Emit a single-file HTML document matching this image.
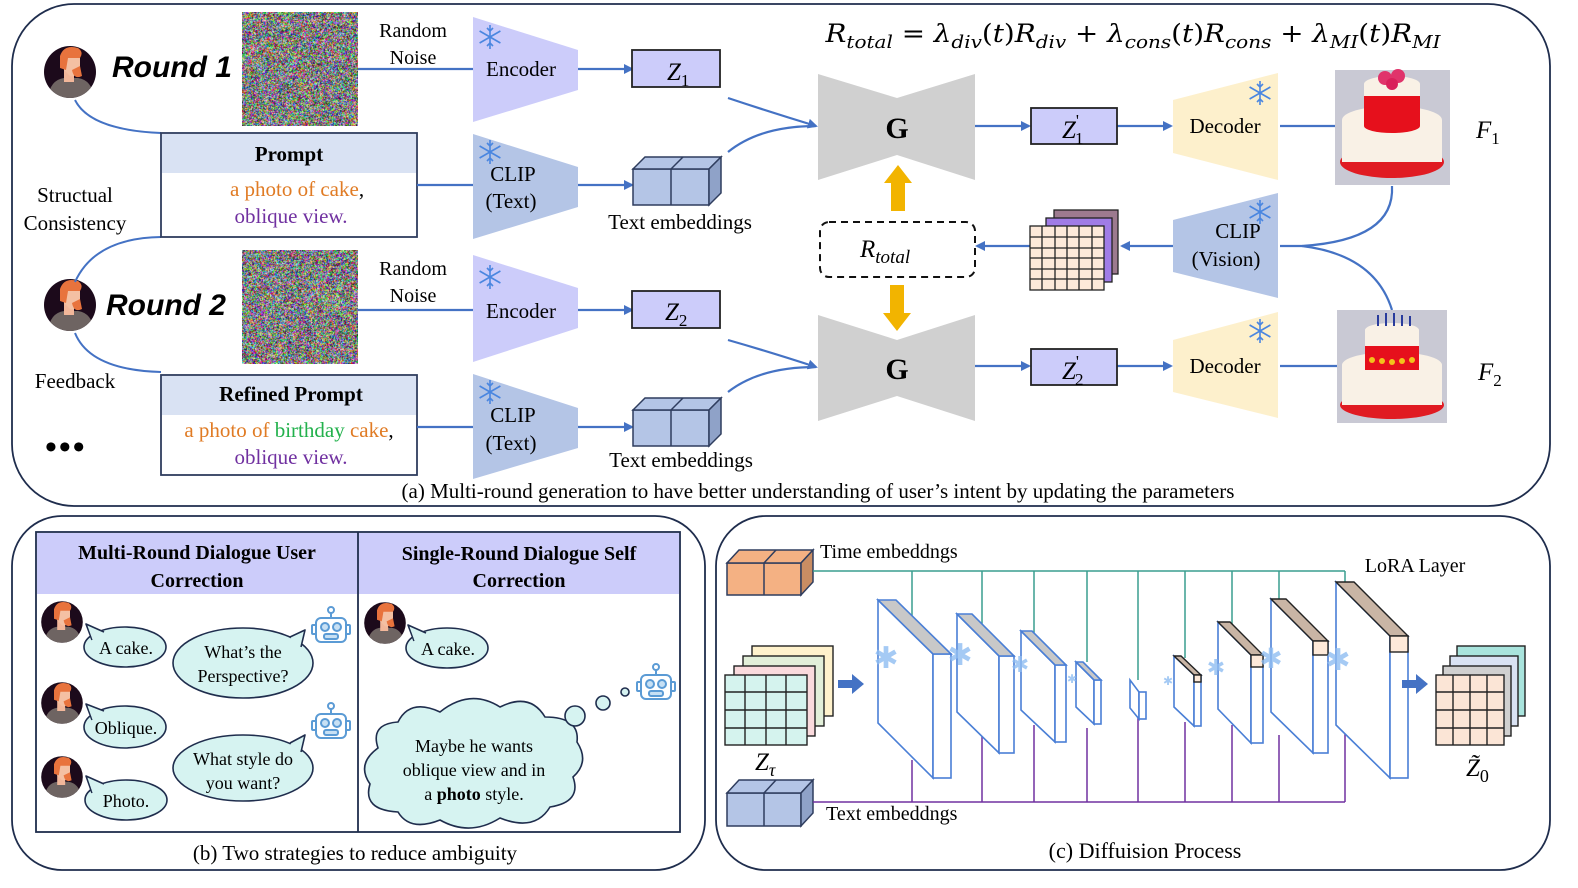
<!DOCTYPE html>
<html><head><meta charset="utf-8">
<style>
html,body{margin:0;padding:0;background:#fff;width:1578px;height:888px;overflow:hidden;}
svg{display:block;font-family:"Liberation Serif",serif;}
canvas{position:absolute;}
</style></head>
<body>
<div style="position:relative;width:1578px;height:888px;overflow:hidden;">
<svg width="1578" height="888" viewBox="0 0 1578 888" xmlns="http://www.w3.org/2000/svg">
<defs>
<marker id="ab" markerWidth="10" markerHeight="10" refX="8" refY="5" orient="auto" markerUnits="userSpaceOnUse"><path d="M0,0 L10,5 L0,10 z" fill="#4472c4"/></marker>
<g id="av">
<circle cx="0" cy="0" r="26" fill="#1c0a1b"/>
<clipPath id="avc"><circle cx="0" cy="0" r="26"/></clipPath>
<g clip-path="url(#avc)">
<path d="M-22,26 Q-20,8 -6,6 L8,6 Q22,8 24,26 z" fill="#6e6462"/>
<rect x="-6" y="-4" width="10" height="14" fill="#f2b79a"/>
<path d="M-8,-18 Q-2,-26 10,-20 L10,-4 Q6,6 0,4 L-6,-2 z" fill="#f4c0a3"/>
<path d="M-10,-16 Q-6,-28 8,-24 Q14,-20 10,-14 L-2,-14 L-4,-2 L-10,-4 z" fill="#e8733d"/>
<path d="M2,-2 Q4,8 12,4 L10,-6 z" fill="#e8733d"/>
</g>
</g>
<g id="snow" stroke="#4a86e0" stroke-width="1.6" fill="none">
<line x1="0" y1="-12" x2="0" y2="12"/><line x1="-10.4" y1="-6" x2="10.4" y2="6"/><line x1="-10.4" y1="6" x2="10.4" y2="-6"/>
<path d="M-3,-9 L0,-6 L3,-9 M-3,9 L0,6 L3,9"/>
</g>
<g id="robot" stroke="#5b9bd5" stroke-width="2" fill="#fff">
<line x1="0" y1="-16" x2="0" y2="-10"/><circle cx="0" cy="-18" r="3"/>
<rect x="-15" y="-10" width="30" height="24" rx="5"/>
<rect x="-19" y="-3" width="4" height="9" rx="1"/><rect x="15" y="-3" width="4" height="9" rx="1"/>
<circle cx="-6" cy="-1" r="4" fill="#c7e0f4"/><circle cx="6" cy="-1" r="4" fill="#c7e0f4"/>
<rect x="-7" y="6" width="14" height="5" rx="2" fill="#c7e0f4"/>
</g>
<g id="cube">
<polygon points="0,12 76,12 76,48 0,48" fill="#b4c5e6" stroke="#2f3d5e" stroke-width="1.5"/>
<polygon points="0,12 12,0 88,0 76,12" fill="#b4c5e6" stroke="#2f3d5e" stroke-width="1.5"/>
<polygon points="76,12 88,0 88,36 76,48" fill="#8fa2c8" stroke="#2f3d5e" stroke-width="1.5"/>
<line x1="38" y1="12" x2="38" y2="48" stroke="#2f3d5e" stroke-width="1.5"/>
<line x1="38" y1="12" x2="50" y2="0" stroke="#2f3d5e" stroke-width="1.5"/>
</g>
</defs>

<rect x="12" y="4" width="1538" height="502" rx="62" fill="none" stroke="#1f2d4d" stroke-width="1.8"/>
<rect x="12" y="516" width="693" height="354" rx="50" fill="none" stroke="#1f2d4d" stroke-width="1.8"/>
<rect x="716" y="516" width="834" height="354" rx="50" fill="none" stroke="#1f2d4d" stroke-width="1.8"/>

<text x="1133" y="42" text-anchor="middle" font-size="25" font-style="italic" font-family="DejaVu Serif, serif" textLength="615" lengthAdjust="spacingAndGlyphs">R<tspan font-size="18" dy="6">total</tspan><tspan dy="-6" font-style="normal"> = </tspan>λ<tspan font-size="18" dy="6">div</tspan><tspan dy="-6" font-style="normal">(</tspan>t<tspan font-style="normal">)</tspan>R<tspan font-size="18" dy="6">div</tspan><tspan dy="-6" font-style="normal"> + </tspan>λ<tspan font-size="18" dy="6">cons</tspan><tspan dy="-6" font-style="normal">(</tspan>t<tspan font-style="normal">)</tspan>R<tspan font-size="18" dy="6">cons</tspan><tspan dy="-6" font-style="normal"> + </tspan>λ<tspan font-size="18" dy="6">MI</tspan><tspan dy="-6" font-style="normal">(</tspan>t<tspan font-style="normal">)</tspan>R<tspan font-size="18" dy="6">MI</tspan></text>

<use href="#av" x="70" y="72"/>
<use href="#av" x="70" y="305"/>
<text x="112" y="77" font-size="30" font-weight="bold" font-style="italic" font-family="Liberation Sans, sans-serif">Round 1</text>
<text x="106" y="315" font-size="30" font-weight="bold" font-style="italic" font-family="Liberation Sans, sans-serif">Round 2</text>
<text x="75" y="202" text-anchor="middle" font-size="21">Structual</text>
<text x="75" y="230" text-anchor="middle" font-size="21">Consistency</text>
<text x="75" y="388" text-anchor="middle" font-size="21">Feedback</text>
<text x="45" y="458" font-size="34" font-weight="bold" letter-spacing="2">•••</text>
<g fill="none" stroke="#4472c4" stroke-width="2">
<path d="M75,100 Q90,130 161,133"/>
<path d="M161,237 Q95,238 75,282"/>
<path d="M75,333 Q90,370 161,372"/>
</g>

<rect x="161" y="133" width="256" height="104" fill="#fff" stroke="#2f3d5e" stroke-width="1.8"/>
<rect x="162" y="134" width="254" height="39" fill="#d9e2f3"/>
<text x="289" y="161" text-anchor="middle" font-size="21" font-weight="bold">Prompt</text>
<text x="297" y="196" text-anchor="middle" font-size="21"><tspan fill="#e07b24">a photo of cake</tspan>,</text>
<text x="291" y="223" text-anchor="middle" font-size="21" fill="#7030a0">oblique view.</text>
<rect x="161" y="375" width="256" height="100" fill="#fff" stroke="#2f3d5e" stroke-width="1.8"/>
<rect x="162" y="376" width="254" height="39" fill="#d9e2f3"/>
<text x="291" y="401" text-anchor="middle" font-size="21" font-weight="bold">Refined Prompt</text>
<text x="289" y="437" text-anchor="middle" font-size="21"><tspan fill="#e07b24">a photo of </tspan><tspan fill="#22b14c">birthday</tspan><tspan fill="#e07b24"> cake</tspan>,</text>
<text x="291" y="464" text-anchor="middle" font-size="21" fill="#7030a0">oblique view.</text>

<text x="413" y="37" text-anchor="middle" font-size="20">Random</text>
<text x="413" y="64" text-anchor="middle" font-size="20">Noise</text>
<text x="413" y="275" text-anchor="middle" font-size="20">Random</text>
<text x="413" y="302" text-anchor="middle" font-size="20">Noise</text>

<polygon points="473,17 578,50 578,90 473,122" fill="#ccccfa"/>
<polygon points="473,255 578,288 578,328 473,362" fill="#ccccfa"/>
<polygon points="473,134 578,167 578,207 473,239" fill="#b4c5e6"/>
<polygon points="473,374 578,408 578,448 473,479" fill="#b4c5e6"/>
<use href="#snow" x="490" y="37"/><use href="#snow" x="490" y="277"/>
<use href="#snow" x="490" y="152"/><use href="#snow" x="490" y="392"/>
<text x="521" y="76" text-anchor="middle" font-size="21">Encoder</text>
<text x="521" y="318" text-anchor="middle" font-size="21">Encoder</text>
<text x="513" y="181" text-anchor="middle" font-size="21">CLIP</text>
<text x="511" y="208" text-anchor="middle" font-size="21">(Text)</text>
<text x="513" y="422" text-anchor="middle" font-size="21">CLIP</text>
<text x="511" y="450" text-anchor="middle" font-size="21">(Text)</text>

<g stroke="#4472c4" stroke-width="2.2" fill="none">
<line x1="358" y1="69" x2="473" y2="69"/>
<line x1="358" y1="310" x2="473" y2="310"/>
<line x1="417" y1="185" x2="473" y2="185"/>
<line x1="417" y1="427" x2="473" y2="427"/>
<line x1="578" y1="69" x2="632" y2="69" marker-end="url(#ab)"/>
<line x1="578" y1="310" x2="632" y2="310" marker-end="url(#ab)"/>
<line x1="578" y1="185" x2="632" y2="185" marker-end="url(#ab)"/>
<line x1="578" y1="427" x2="632" y2="427" marker-end="url(#ab)"/>
<path d="M728,98 Q770,112 816,126" marker-end="url(#ab)"/>
<path d="M728,152 Q760,126 816,126"/>
<path d="M728,340 Q770,352 816,367" marker-end="url(#ab)"/>
<path d="M728,392 Q760,367 816,367"/>
<line x1="975" y1="126" x2="1029" y2="126" marker-end="url(#ab)"/>
<line x1="975" y1="366" x2="1029" y2="366" marker-end="url(#ab)"/>
<line x1="1117" y1="126" x2="1171" y2="126" marker-end="url(#ab)"/>
<line x1="1117" y1="366" x2="1171" y2="366" marker-end="url(#ab)"/>
<line x1="1280" y1="126" x2="1335" y2="126"/>
<line x1="1280" y1="366" x2="1337" y2="366"/>
<line x1="1173" y1="246" x2="1122" y2="246" marker-end="url(#ab)"/>
<line x1="1030" y1="246" x2="977" y2="246" marker-end="url(#ab)"/>
<path d="M1392,186 Q1395,240 1302,246 L1280,246"/>
<path d="M1302,246 Q1375,255 1392,310"/>
</g>

<rect x="632" y="50" width="88" height="37" fill="#ccccfa" stroke="#222" stroke-width="1.8"/>
<text x="667" y="80" font-size="25" font-style="italic">Z<tspan font-size="17" dy="6" font-style="normal">1</tspan></text>
<rect x="632" y="291" width="88" height="37" fill="#ccccfa" stroke="#222" stroke-width="1.8"/>
<text x="665" y="320" font-size="25" font-style="italic">Z<tspan font-size="17" dy="6" font-style="normal">2</tspan></text>
<use href="#cube" x="633" y="157"/>
<use href="#cube" x="633" y="398"/>
<text x="680" y="229" text-anchor="middle" font-size="21">Text embeddings</text>
<text x="681" y="467" text-anchor="middle" font-size="21">Text embeddings</text>

<polygon points="818,74 897,98 975,74 975,180 897,155 818,180" fill="#d0d0d0"/>
<polygon points="818,315 897,340 975,315 975,421 897,396 818,421" fill="#d0d0d0"/>
<text x="897" y="138" text-anchor="middle" font-size="30" font-weight="bold">G</text>
<text x="897" y="379" text-anchor="middle" font-size="30" font-weight="bold">G</text>
<polygon points="891,211 891,183 884,183 898,165 912,183 905,183 905,211" fill="#f2b400"/>
<polygon points="890,285 890,313 883,313 897,331 911,313 904,313 904,285" fill="#f2b400"/>
<rect x="820" y="222" width="155" height="55" rx="9" fill="none" stroke="#111" stroke-width="2" stroke-dasharray="7,5"/>
<text x="860" y="257" font-size="25" font-style="italic">R<tspan font-size="19" dy="6">total</tspan></text>

<rect x="1031" y="108" width="86" height="36" fill="#ccccfa" stroke="#222" stroke-width="1.8"/>
<text x="1062" y="138" font-size="25" font-style="italic">Z<tspan font-size="17" dy="-12" font-style="normal">'</tspan><tspan font-size="17" dx="-4" dy="18" font-style="normal">1</tspan></text>
<rect x="1031" y="349" width="86" height="36" fill="#ccccfa" stroke="#222" stroke-width="1.8"/>
<text x="1062" y="379" font-size="25" font-style="italic">Z<tspan font-size="17" dy="-12" font-style="normal">'</tspan><tspan font-size="17" dx="-4" dy="18" font-style="normal">2</tspan></text>

<polygon points="1173,100 1278,73 1278,180 1173,153" fill="#fdf0cc"/>
<polygon points="1173,340 1278,312 1278,418 1173,392" fill="#fdf0cc"/>
<polygon points="1173,220 1278,193 1278,298 1173,272" fill="#b4c5e6"/>
<use href="#snow" x="1260" y="93"/><use href="#snow" x="1260" y="331"/><use href="#snow" x="1260" y="212"/>
<text x="1225" y="133" text-anchor="middle" font-size="21">Decoder</text>
<text x="1225" y="373" text-anchor="middle" font-size="21">Decoder</text>
<text x="1238" y="238" text-anchor="middle" font-size="21">CLIP</text>
<text x="1226" y="266" text-anchor="middle" font-size="21">(Vision)</text>

<g stroke="#222" stroke-width="1.3">
<rect x="1054" y="210" width="64" height="64" fill="#9d7a8f"/>
<rect x="1046" y="218" width="66" height="64" fill="#a07ce6"/>
<rect x="1030" y="226" width="74" height="64" fill="#fde9d9"/>
<path d="M1042,226V290M1055,226V290M1067,226V290M1079,226V290M1092,226V290M1030,237H1104M1030,248H1104M1030,258H1104M1030,269H1104M1030,279H1104" fill="none"/>
</g>

<rect x="1335" y="70" width="115" height="115" fill="#c9c9d4"/>
<ellipse cx="1392" cy="162" rx="52" ry="16" fill="#e01b22"/>
<rect x="1342" y="120" width="100" height="42" fill="#f9f1e6"/>
<ellipse cx="1392" cy="120" rx="50" ry="14" fill="#f9f1e6"/>
<rect x="1364" y="92" width="56" height="34" fill="#e6101c"/>
<ellipse cx="1392" cy="126" rx="28" ry="7" fill="#e6101c"/>
<rect x="1364" y="84" width="56" height="12" fill="#f9f1e6"/>
<ellipse cx="1392" cy="84" rx="28" ry="8" fill="#f9f1e6"/>
<circle cx="1385" cy="78" r="7" fill="#e0336b"/><circle cx="1398" cy="76" r="7" fill="#e0336b"/><circle cx="1392" cy="84" r="6" fill="#d9205b"/>
<rect x="1337" y="310" width="110" height="113" fill="#c9c9d4"/>
<ellipse cx="1392" cy="405" rx="52" ry="14" fill="#e01b22"/>
<rect x="1342" y="365" width="100" height="40" fill="#f9f1e6"/>
<ellipse cx="1392" cy="365" rx="50" ry="13" fill="#f9f1e6"/>
<rect x="1365" y="338" width="54" height="32" fill="#e6101c"/>
<rect x="1365" y="330" width="54" height="16" fill="#f9f1e6"/>
<ellipse cx="1392" cy="330" rx="27" ry="7" fill="#f9f1e6"/>
<g fill="#f3c21b"><circle cx="1372" cy="360" r="3"/><circle cx="1382" cy="361" r="3"/><circle cx="1392" cy="362" r="3"/><circle cx="1402" cy="361" r="3"/><circle cx="1412" cy="360" r="3"/></g>
<g stroke="#2a3c9c" stroke-width="2"><line x1="1378" y1="315" x2="1378" y2="326"/><line x1="1386" y1="313" x2="1386" y2="326"/><line x1="1394" y1="313" x2="1394" y2="326"/><line x1="1402" y1="315" x2="1402" y2="326"/><line x1="1410" y1="316" x2="1410" y2="326"/></g>
<text x="1476" y="138" font-size="25" font-style="italic">F<tspan font-size="17" dy="6" font-style="normal">1</tspan></text>
<text x="1478" y="380" font-size="25" font-style="italic">F<tspan font-size="17" dy="6" font-style="normal">2</tspan></text>

<text x="818" y="498" text-anchor="middle" font-size="21">(a) Multi-round generation to have better understanding of user’s intent by updating the parameters</text>

<!-- (b) -->
<rect x="36" y="532" width="644" height="300" fill="#fff" stroke="#1f2d4d" stroke-width="1.8"/>
<rect x="37" y="533" width="642" height="61" fill="#ccccfa"/>
<line x1="358" y1="532" x2="358" y2="832" stroke="#1f2d4d" stroke-width="1.8"/>
<text x="197" y="559" text-anchor="middle" font-size="20" font-weight="bold">Multi-Round Dialogue User</text>
<text x="197" y="587" text-anchor="middle" font-size="20" font-weight="bold">Correction</text>
<text x="519" y="560" text-anchor="middle" font-size="20" font-weight="bold">Single-Round Dialogue Self</text>
<text x="519" y="587" text-anchor="middle" font-size="20" font-weight="bold">Correction</text>
<g transform="translate(62,622) scale(0.8)"><use href="#av"/></g>
<g transform="translate(62,703) scale(0.8)"><use href="#av"/></g>
<g transform="translate(62,777) scale(0.8)"><use href="#av"/></g>
<g transform="translate(385,623) scale(0.8)"><use href="#av"/></g>
<g fill="#d6f3f1" stroke="#1f2d4d" stroke-width="1.6">
<ellipse cx="125" cy="647" rx="41" ry="20"/>
<ellipse cx="125" cy="727" rx="41" ry="21"/>
<ellipse cx="126" cy="800" rx="41" ry="20"/>
<ellipse cx="447" cy="648" rx="41" ry="20"/>
<ellipse cx="243" cy="663" rx="70" ry="35"/>
<ellipse cx="243" cy="768" rx="70" ry="33"/>
<path d="M378,748 Q370,724 398,722 Q410,698 440,712 Q470,688 500,707 Q530,692 545,717 Q580,717 577,742 Q590,762 573,777 Q582,802 550,807 Q535,832 500,818 Q470,837 440,820 Q410,832 398,812 Q362,810 370,784 Q356,764 378,748 z"/>
<circle cx="575" cy="716" r="10"/><circle cx="603" cy="703" r="7"/><circle cx="625" cy="692" r="4"/>
</g>
<g fill="#d6f3f1" stroke="#1f2d4d" stroke-width="1.6" stroke-linejoin="round">
<path d="M92,640 L86,624 L104,632"/>
<path d="M92,720 L86,704 L104,711"/>
<path d="M92,793 L86,776 L104,784"/>
<path d="M414,641 L408,625 L426,633"/>
<path d="M290,637 L305,630 L301,647"/>
<path d="M290,743 L305,735 L301,752"/>
</g>
<g fill="#d6f3f1">
<path d="M93,641 L88,627 L103,634 z"/><path d="M93,721 L88,707 L103,713 z"/><path d="M93,794 L88,779 L103,786 z"/><path d="M415,642 L410,628 L425,635 z"/>
<path d="M289,639 L303,633 L300,647 z"/><path d="M289,745 L303,738 L300,752 z"/>
</g>
<g font-size="18" text-anchor="middle">
<text x="126" y="654">A cake.</text>
<text x="126" y="734">Oblique.</text>
<text x="126" y="807">Photo.</text>
<text x="448" y="655">A cake.</text>
<text x="243" y="658">What’s the</text>
<text x="243" y="682">Perspective?</text>
<text x="243" y="765">What style do</text>
<text x="243" y="789">you want?</text>
<text x="474" y="752">Maybe he wants</text>
<text x="474" y="776">oblique view and in</text>
<text x="474" y="800">a <tspan font-weight="bold">photo</tspan> style.</text>
</g>
<use href="#robot" x="331" y="628"/>
<use href="#robot" x="331" y="724"/>
<use href="#robot" x="656" y="685"/>
<text x="355" y="860" text-anchor="middle" font-size="21">(b) Two strategies to reduce ambiguity</text>

<!-- (c) -->
<g stroke="#2f3d5e" stroke-width="1.5">
<polygon points="727,563 801,563 801,595 727,595" fill="#f4b183"/>
<polygon points="727,563 739,550 813,550 801,563" fill="#f4b183"/>
<polygon points="801,563 813,550 813,582 801,595" fill="#c98d63"/>
<line x1="764" y1="563" x2="764" y2="595"/><line x1="764" y1="563" x2="776" y2="550"/>
<polygon points="727,793 801,793 801,826 727,826" fill="#b4c5e6"/>
<polygon points="727,793 739,780 813,780 801,793" fill="#b4c5e6"/>
<polygon points="801,793 813,780 813,813 801,826" fill="#8fa2c8"/>
<line x1="764" y1="793" x2="764" y2="826"/><line x1="764" y1="793" x2="776" y2="780"/>
</g>
<g fill="none" stroke="#3a9e8f" stroke-width="1.5">
<path d="M813,571 H1345 M912,571V620 M982,571V632 M1034,571V635 M1087,571V662 M1138,571V680 M1185,571V658 M1232,571V625 M1279,571V600 M1345,571V585"/>
</g>
<g fill="none" stroke="#7030a0" stroke-width="1.5">
<path d="M813,802 H1345 M912,802V760 M982,802V736 M1034,802V725 M1087,802V728 M1138,802V718 M1185,802V722 M1232,802V725 M1279,802V735 M1345,802V725"/>
</g>
<g stroke="#4a7fd6" stroke-width="1.6" fill="#fff">
<polygon points="878,600 933,654 933,778 878,723"/><rect x="933" y="654" width="18" height="124"/><polygon points="878,600 896,600 951,654 933,654" fill="#c8c8c8"/>
<polygon points="957,614 999,656 999,753 957,712"/><rect x="999" y="656" width="15" height="97"/><polygon points="957,614 972,614 1014,656 999,656" fill="#c8c8c8"/>
<polygon points="1021,631 1055,665 1055,742 1021,710"/><rect x="1055" y="665" width="11" height="77"/><polygon points="1021,631 1032,631 1066,665 1055,665" fill="#c8c8c8"/>
<polygon points="1076,662 1094,680 1094,724 1076,707"/><rect x="1094" y="680" width="7" height="44"/><polygon points="1076,662 1083,662 1101,680 1094,680" fill="#c8c8c8"/>
<polygon points="1130,680 1139,692 1139,719 1130,708"/><rect x="1139" y="692" width="7" height="27"/>
<polygon points="1174,656 1194,675 1194,726 1174,707"/><rect x="1194" y="675" width="7" height="51"/>
<polygon points="1218,622 1251,655 1251,743 1218,709"/><rect x="1251" y="655" width="12" height="88"/>
<polygon points="1271,599 1313,641 1313,753 1271,712"/><rect x="1313" y="641" width="15" height="112"/>
<polygon points="1336,582 1390,636 1390,778 1336,725"/><rect x="1390" y="636" width="18" height="142"/>
</g>
<g stroke="#222" stroke-width="1.4">
<polygon points="1174,656 1181,656 1201,675 1194,675" fill="#c9b5a5"/><rect x="1194" y="675" width="7" height="7" fill="#fde9d9"/>
<polygon points="1218,622 1230,622 1263,655 1251,655" fill="#c9b5a5"/><rect x="1251" y="655" width="12" height="12" fill="#fde9d9"/>
<polygon points="1271,599 1286,599 1328,641 1313,641" fill="#c9b5a5"/><rect x="1313" y="641" width="15" height="14" fill="#fde9d9"/>
<polygon points="1336,582 1354,582 1408,636 1390,636" fill="#c9b5a5"/><rect x="1390" y="636" width="18" height="16" fill="#fde9d9"/>
</g>
<g fill="#8fbdf2" opacity="0.8" font-size="30" font-family="DejaVu Sans" text-anchor="middle">
<text x="886" y="668">✱</text><text x="960" y="665">✱</text><text x="1020" y="672" font-size="22">✱</text><text x="1072" y="683" font-size="12">✱</text><text x="1168" y="685" font-size="12">✱</text><text x="1216" y="675" font-size="22">✱</text><text x="1271" y="668" font-size="28">✱</text><text x="1338" y="670">✱</text>
</g>
<g stroke="#222" stroke-width="1.4">
<rect x="752" y="646" width="81" height="70" fill="#fff2cc"/>
<rect x="743" y="656" width="81" height="70" fill="#e2efd9"/>
<rect x="734" y="666" width="81" height="70" fill="#fadadd"/>
<rect x="725" y="675" width="82" height="70" fill="#d5f3ee"/>
<path d="M745,675V745M766,675V745M786,675V745M725,692H807M725,710H807M725,728H807" fill="none"/>
<rect x="1457" y="646" width="68" height="70" fill="#a9e4dd"/>
<rect x="1450" y="656" width="68" height="70" fill="#d9e2f3"/>
<rect x="1443" y="666" width="68" height="70" fill="#d0d0d0"/>
<rect x="1436" y="675" width="68" height="70" fill="#fbe5d6"/>
<path d="M1453,675V745M1470,675V745M1487,675V745M1436,692H1504M1436,710H1504M1436,728H1504" fill="none"/>
</g>
<polygon points="838,680 852,680 852,674 864,684 852,694 852,688 838,688" fill="#4472c4"/>
<polygon points="1402,680 1416,680 1416,674 1428,684 1416,694 1416,688 1402,688" fill="#4472c4"/>
<text x="755" y="770" font-size="25" font-style="italic">Z<tspan font-size="18" dy="6">τ</tspan></text>
<text x="1466" y="776" font-size="25" font-style="italic">Z̃<tspan font-size="18" dy="6" font-style="normal">0</tspan></text>
<text x="820" y="558" font-size="20">Time embeddngs</text>
<text x="826" y="820" font-size="20">Text embeddngs</text>
<text x="1415" y="572" text-anchor="middle" font-size="20">LoRA Layer</text>
<text x="1145" y="858" text-anchor="middle" font-size="22">(c) Diffuision Process</text>
</svg>
<canvas id="n1" width="116" height="114" style="left:242px;top:12px;background:#8a8090"></canvas>
<canvas id="n2" width="116" height="114" style="left:242px;top:250px;background:#8a8090"></canvas>
</div>
<script>
["n1","n2"].forEach(function(id){var c=document.getElementById(id),x=c.getContext("2d");var d=x.createImageData(116,114);for(var i=0;i<d.data.length;i+=4){d.data[i]=Math.random()*255;d.data[i+1]=Math.random()*255;d.data[i+2]=Math.random()*255;d.data[i+3]=255;}x.putImageData(d,0,0);});
</script>
</body></html>
